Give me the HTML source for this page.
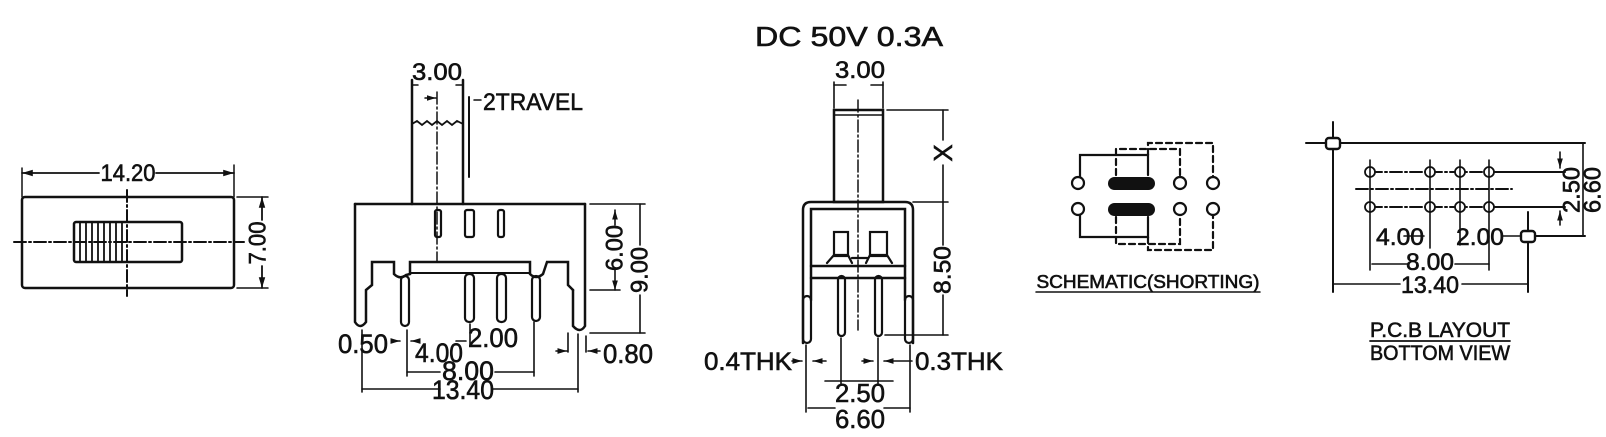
<!DOCTYPE html>
<html><head><meta charset="utf-8"><style>
html,body{margin:0;padding:0;background:#fff;}
svg{display:block}
text{font-family:"Liberation Sans",Arial,sans-serif;fill:#111;stroke:#111;stroke-width:0.6;}
</style></head><body>
<svg width="1606" height="437" viewBox="0 0 1606 437" xmlns="http://www.w3.org/2000/svg">
<defs>
<marker id="a" viewBox="0 0 10 10" refX="10" refY="5" markerWidth="6" markerHeight="6" orient="auto-start-reverse"><path d="M0,2 L10,5 L0,8z" fill="#111"/></marker>
</defs>
<g stroke="#111" fill="none" stroke-linecap="round">

<!-- ===== VIEW 1 ===== -->
<rect x="22" y="197" width="212" height="91" rx="3" stroke-width="2.5"/>
<line x1="22" y1="168" x2="22" y2="197" stroke-width="1.5"/>
<line x1="234" y1="165" x2="234" y2="197" stroke-width="1.5"/>
<line x1="22" y1="173" x2="99" y2="173" stroke-width="1.8" marker-start="url(#a)"/>
<line x1="156" y1="173" x2="234" y2="173" stroke-width="1.8" marker-end="url(#a)"/>
<line x1="127" y1="190" x2="127" y2="296" stroke-width="2" stroke-dasharray="12 3 2 3"/>
<line x1="14" y1="242" x2="244" y2="242" stroke-width="2" stroke-dasharray="12 3 2 3"/>
<rect x="74" y="222" width="108" height="40" rx="2" stroke-width="2.5"/>
<g stroke-width="1.8">
<line x1="80" y1="222" x2="80" y2="262"/><line x1="86" y1="222" x2="86" y2="262"/><line x1="92" y1="222" x2="92" y2="262"/><line x1="98" y1="222" x2="98" y2="262"/><line x1="104" y1="222" x2="104" y2="262"/><line x1="110" y1="222" x2="110" y2="262"/><line x1="116" y1="222" x2="116" y2="262"/><line x1="122" y1="222" x2="122" y2="262"/>
</g>
<line x1="237" y1="197" x2="268" y2="197" stroke-width="1.5"/>
<line x1="237" y1="288" x2="268" y2="288" stroke-width="1.5"/>
<line x1="262" y1="197" x2="262" y2="220" stroke-width="1.8" marker-start="url(#a)"/>
<line x1="262" y1="266" x2="262" y2="288" stroke-width="1.8" marker-end="url(#a)"/>

<!-- ===== VIEW 2 ===== -->
<g stroke-width="2.5">
<line x1="412" y1="80" x2="412" y2="204"/>
<line x1="463" y1="80" x2="463" y2="204"/>
<path d="M412,124 l5,-3 l5,4 l5,-4 l5,4 l5,-4 l5,4 l5,-4 l5,4 l5,-4 l6,3" stroke-width="1.8"/>
<path d="M355,204 L585,204"/>
<path d="M355,204 L355,322 Q360,330 366,322 L366,290 L372,285 L372,262 L394,262 L394,274 Q400,280 406,275 L410,274 L410,262 L530,262 L530,274 Q536,280 543,274 L547,262 L568,262 L568,285 L573,290"/>
<path d="M585,204 L585,326 Q580,334 573,326 L573,290"/>
<line x1="410" y1="273" x2="530" y2="273" stroke-width="2"/>
</g>
<g stroke-width="2.2">
<rect x="401" y="276" width="8" height="50" rx="4"/>
<rect x="465" y="274" width="9" height="48" rx="4"/>
<rect x="497" y="274" width="9" height="48" rx="4"/>
<rect x="532" y="276" width="8" height="45" rx="4"/>
<rect x="435" y="210" width="6" height="27" rx="2"/>
<rect x="465" y="210" width="9" height="27" rx="2"/>
<rect x="498" y="210" width="6" height="27" rx="2"/>
</g>
<line x1="437" y1="92" x2="437" y2="262" stroke-width="1.5" stroke-dasharray="12 3 2 3"/>
<line x1="412" y1="82" x2="412" y2="86" stroke-width="1.5"/>
<line x1="412" y1="85" x2="418" y2="85" stroke-width="1.5"/>
<line x1="456" y1="85" x2="463" y2="85" stroke-width="1.5"/>
<line x1="425" y1="98" x2="436" y2="98" stroke-width="1.5" marker-end="url(#a)"/>
<line x1="469" y1="97" x2="469" y2="177" stroke-width="2"/>
<line x1="474" y1="100" x2="481" y2="100" stroke-width="1.5"/>
<g stroke-width="1.6">
<line x1="590" y1="204" x2="645" y2="204"/>
<line x1="590" y1="290" x2="620" y2="290"/>
<line x1="590" y1="333" x2="645" y2="333"/>
<line x1="615" y1="210" x2="615" y2="225" marker-start="url(#a)"/>
<line x1="615" y1="270" x2="615" y2="290" marker-end="url(#a)"/>
<line x1="640" y1="204" x2="640" y2="245"/>
<line x1="640" y1="295" x2="640" y2="333"/>
<line x1="362" y1="330" x2="362" y2="392"/>
<line x1="578" y1="334" x2="578" y2="392"/>
<line x1="407" y1="330" x2="407" y2="376"/>
<line x1="534" y1="322" x2="534" y2="376"/>
<line x1="470" y1="324" x2="470" y2="345"/>
<line x1="362" y1="389" x2="440" y2="389"/>
<line x1="492" y1="389" x2="578" y2="389"/>
<line x1="407" y1="372" x2="440" y2="372"/>
<line x1="495" y1="372" x2="534" y2="372"/>
<line x1="392" y1="341" x2="400" y2="341" marker-end="url(#a)"/>
<line x1="418" y1="341" x2="411" y2="341" marker-end="url(#a)"/>
<line x1="456" y1="341" x2="466" y2="341"/>
<line x1="568" y1="333" x2="568" y2="352"/>
<line x1="586" y1="336" x2="586" y2="352"/>
<line x1="556" y1="351" x2="567" y2="351" marker-end="url(#a)"/>
<line x1="600" y1="351" x2="588" y2="351" marker-end="url(#a)"/>
</g>

<!-- ===== VIEW 3 ===== -->
<g stroke-width="2.5">
<rect x="834" y="110" width="49" height="92"/>
<line x1="834" y1="115" x2="883" y2="115" stroke-width="1.5"/>
<path d="M803,343 L803,210 Q803,202 811,202 L905,202 Q913,202 913,210 L913,343"/>
<path d="M811,300 L811,209 L905,209 L905,300"/>
<line x1="811" y1="266" x2="905" y2="266"/>
<line x1="811" y1="278" x2="905" y2="278"/>
</g>
<g stroke-width="2.2">
<rect x="803" y="296" width="8" height="47" rx="4"/>
<rect x="905" y="296" width="8" height="47" rx="4"/>
<rect x="838" y="276" width="7" height="60" rx="3.5"/>
<rect x="875" y="276" width="7" height="60" rx="3.5"/>
<rect x="834" y="232" width="14" height="24"/>
<rect x="870" y="232" width="17" height="24"/>
<path d="M827,263 L834,255 L848,255 L852,263 M852,258 L868,258 M866,263 L870,255 L887,255 L892,263"/>
</g>
<line x1="858" y1="100" x2="858" y2="330" stroke-width="1.5" stroke-dasharray="12 3 2 3"/>
<g stroke-width="1.6">
<line x1="834" y1="82" x2="834" y2="108"/>
<line x1="883" y1="82" x2="883" y2="108"/>
<line x1="834" y1="85" x2="846" y2="85"/>
<line x1="871" y1="85" x2="883" y2="85"/>
<line x1="887" y1="110" x2="948" y2="110"/>
<line x1="913" y1="202" x2="948" y2="202"/>
<line x1="885" y1="335" x2="948" y2="335"/>
<line x1="943" y1="110" x2="943" y2="140"/>
<line x1="943" y1="165" x2="943" y2="245"/>
<line x1="943" y1="295" x2="943" y2="335"/>
<line x1="806" y1="345" x2="806" y2="412"/>
<line x1="910" y1="345" x2="910" y2="412"/>
<line x1="841" y1="338" x2="841" y2="385"/>
<line x1="878" y1="338" x2="878" y2="385"/>
<line x1="825" y1="381" x2="893" y2="381"/>
<line x1="808" y1="408" x2="835" y2="408"/>
<line x1="884" y1="408" x2="910" y2="408"/>
<line x1="792" y1="361" x2="802" y2="361" marker-end="url(#a)"/>
<line x1="826" y1="361" x2="813" y2="361" marker-end="url(#a)"/>
<line x1="862" y1="361" x2="873" y2="361" marker-end="url(#a)"/>
<line x1="912" y1="361" x2="884" y2="361" marker-end="url(#a)"/>
</g>

<!-- ===== SCHEMATIC ===== -->
<g stroke-width="2.2">
<circle cx="1078" cy="183" r="6"/>
<circle cx="1078" cy="209" r="6"/>
<circle cx="1180" cy="183" r="6"/>
<circle cx="1180" cy="209" r="6"/>
<circle cx="1213" cy="183" r="6"/>
<circle cx="1213" cy="209" r="6"/>
<path d="M1080,177 L1080,155 L1148,155 L1148,175"/>
<path d="M1080,215 L1080,237 L1148,237 L1148,217"/>
<path d="M1116,175 L1116,149 L1180,149 L1180,177 M1116,217 L1116,244 L1180,244 L1180,215" stroke-dasharray="6 4"/>
<path d="M1148,155 L1148,143 L1213,143 L1213,177 M1148,237 L1148,250 L1213,250 L1213,215" stroke-dasharray="6 4"/>
</g>
<rect x="1108" y="177" width="47" height="13" rx="6.5" fill="#111" stroke="none"/>
<rect x="1108" y="203" width="47" height="13" rx="6.5" fill="#111" stroke="none"/>
<line x1="1036" y1="292" x2="1260" y2="292" stroke-width="1.5"/>

<!-- ===== PCB ===== -->
<g stroke-width="2">
<line x1="1333" y1="122" x2="1333" y2="292"/>
<line x1="1306" y1="143" x2="1585" y2="143"/>
<line x1="1528" y1="212" x2="1528" y2="292"/>
<line x1="1535" y1="236" x2="1585" y2="236"/>
<line x1="1489" y1="172" x2="1565" y2="172"/>
<line x1="1489" y1="207" x2="1565" y2="207"/>
<line x1="1356" y1="189" x2="1512" y2="189" stroke-dasharray="12 3 2 3"/>
<line x1="1370" y1="172" x2="1489" y2="172" stroke-dasharray="12 3 2 3"/>
<line x1="1370" y1="207" x2="1489" y2="207" stroke-dasharray="12 3 2 3"/>
<rect x="1326" y="138" width="14" height="11" rx="3" fill="#fff" stroke-width="2.4"/>
<rect x="1521" y="231" width="14" height="11" rx="3" fill="#fff" stroke-width="2.4"/>
</g>
<g stroke-width="1.8" fill="#fff">
<circle cx="1370" cy="172" r="5"/><circle cx="1430" cy="172" r="5"/><circle cx="1460" cy="172" r="5"/><circle cx="1489" cy="172" r="5"/>
<circle cx="1370" cy="207" r="5"/><circle cx="1430" cy="207" r="5"/><circle cx="1460" cy="207" r="5"/><circle cx="1489" cy="207" r="5"/>
</g>
<g stroke-width="1.6">
<line x1="1370" y1="160" x2="1370" y2="270"/>
<line x1="1430" y1="160" x2="1430" y2="248"/>
<line x1="1460" y1="160" x2="1460" y2="245"/>
<line x1="1489" y1="160" x2="1489" y2="270"/>
<line x1="1372" y1="264" x2="1408" y2="264"/>
<line x1="1455" y1="264" x2="1489" y2="264"/>
<line x1="1333" y1="284" x2="1400" y2="284"/>
<line x1="1462" y1="284" x2="1528" y2="284"/>
<line x1="1404" y1="236" x2="1424" y2="236"/>
<line x1="1502" y1="236" x2="1521" y2="236"/>
<line x1="1560" y1="152" x2="1560" y2="168" marker-end="url(#a)"/>
<line x1="1560" y1="225" x2="1560" y2="211" marker-end="url(#a)"/>
<line x1="1583" y1="143" x2="1583" y2="236"/>
</g>
<line x1="1370" y1="341" x2="1510" y2="341" stroke-width="1.8"/>
</g>

<!-- ===== TEXT ===== -->
<g font-size="24">
<text x="128" y="181" text-anchor="middle" textLength="55" lengthAdjust="spacingAndGlyphs">14.20</text>
<text transform="translate(258,243) rotate(-90)" text-anchor="middle" dominant-baseline="central" textLength="43" lengthAdjust="spacingAndGlyphs">7.00</text>

<text x="437" y="80" text-anchor="middle" textLength="50" lengthAdjust="spacingAndGlyphs">3.00</text>
<text x="483" y="110" textLength="100" lengthAdjust="spacingAndGlyphs">2TRAVEL</text>
<text transform="translate(615,248) rotate(-90)" text-anchor="middle" dominant-baseline="central" textLength="46" lengthAdjust="spacingAndGlyphs">6.00</text>
<text transform="translate(640,270) rotate(-90)" text-anchor="middle" dominant-baseline="central" textLength="46" lengthAdjust="spacingAndGlyphs">9.00</text>
<text x="338" y="353" font-size="27" textLength="50" lengthAdjust="spacingAndGlyphs">0.50</text>
<text x="468" y="347" font-size="27" textLength="50" lengthAdjust="spacingAndGlyphs">2.00</text>
<text x="415" y="362" font-size="27" textLength="48" lengthAdjust="spacingAndGlyphs">4.00</text>
<text x="603" y="363" font-size="27" textLength="50" lengthAdjust="spacingAndGlyphs">0.80</text>
<text x="468" y="380" text-anchor="middle" font-size="27" textLength="52" lengthAdjust="spacingAndGlyphs">8.00</text>
<text x="463" y="399" text-anchor="middle" font-size="27" textLength="62" lengthAdjust="spacingAndGlyphs">13.40</text>

<text x="849" y="46" text-anchor="middle" font-size="28" textLength="188" lengthAdjust="spacingAndGlyphs">DC  50V  0.3A</text>
<text x="860" y="78" text-anchor="middle" textLength="50" lengthAdjust="spacingAndGlyphs">3.00</text>
<text transform="translate(943,153) rotate(-90)" text-anchor="middle" dominant-baseline="central" font-size="26">X</text>
<text transform="translate(943,270) rotate(-90)" text-anchor="middle" dominant-baseline="central" textLength="48" lengthAdjust="spacingAndGlyphs">8.50</text>
<text x="792" y="370" text-anchor="end" font-size="25" textLength="88" lengthAdjust="spacingAndGlyphs">0.4THK</text>
<text x="915" y="370" font-size="25" textLength="88" lengthAdjust="spacingAndGlyphs">0.3THK</text>
<text x="860" y="402" text-anchor="middle" font-size="26" textLength="50" lengthAdjust="spacingAndGlyphs">2.50</text>
<text x="860" y="428" text-anchor="middle" font-size="26" textLength="50" lengthAdjust="spacingAndGlyphs">6.60</text>

<text x="1148" y="288" text-anchor="middle" font-size="18" textLength="223" lengthAdjust="spacingAndGlyphs">SCHEMATIC(SHORTING)</text>

<text x="1400" y="245" text-anchor="middle" font-size="24" textLength="48" lengthAdjust="spacingAndGlyphs">4.00</text>
<text x="1480" y="245" text-anchor="middle" font-size="24" textLength="48" lengthAdjust="spacingAndGlyphs">2.00</text>
<text x="1430" y="270" text-anchor="middle" font-size="24" textLength="48" lengthAdjust="spacingAndGlyphs">8.00</text>
<text x="1430" y="293" text-anchor="middle" font-size="24" textLength="58" lengthAdjust="spacingAndGlyphs">13.40</text>
<text transform="translate(1572,190) rotate(-90)" text-anchor="middle" dominant-baseline="central" font-size="24" textLength="46" lengthAdjust="spacingAndGlyphs">2.50</text>
<text transform="translate(1593,190) rotate(-90)" text-anchor="middle" dominant-baseline="central" font-size="24" textLength="46" lengthAdjust="spacingAndGlyphs">6.60</text>
<text x="1440" y="337" text-anchor="middle" font-size="21" textLength="140" lengthAdjust="spacingAndGlyphs">P.C.B LAYOUT</text>
<text x="1440" y="360" text-anchor="middle" font-size="21" textLength="140" lengthAdjust="spacingAndGlyphs">BOTTOM VIEW</text>
</g>
</svg>
</body></html>
